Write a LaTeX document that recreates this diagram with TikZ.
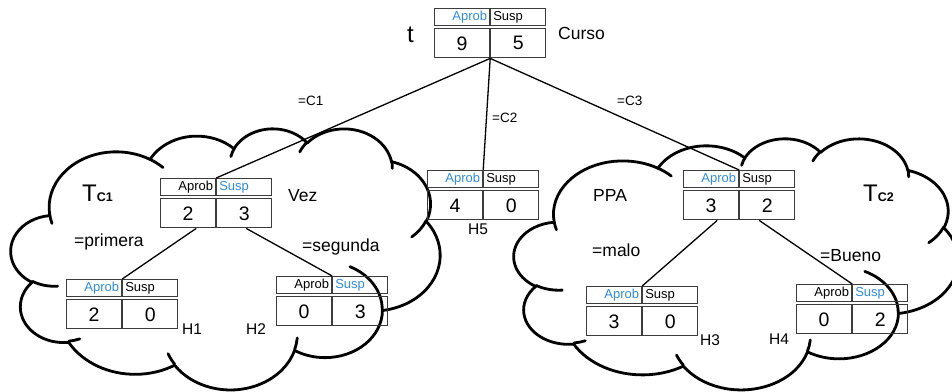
\documentclass[tikz,border=0pt]{standalone}
\usepackage{fontspec}
\setmainfont{Liberation Sans}
\definecolor{azul}{RGB}{45,140,220}
\definecolor{tblc}{RGB}{60,60,60}
\newcommand\cloudarc[4]{%
  \pgfextra{%
    \pgfmathsetmacro\cvsl{atan2((#1)*sin(#3),(#2)*cos(#3))}\global\let\cvs\cvsl
    \pgfmathsetmacro\cvel{atan2((#1)*sin((#3)+(#4)),(#2)*cos((#3)+(#4)))}%
    \pgfmathsetmacro\cvdl{\cvel-\cvs}%
    \pgfmathsetmacro\cvdl{\cvdl+360*((#4)>0)*(\cvdl<0)-360*((#4)<0)*(\cvdl>0)}\global\let\cvd\cvdl
  }
  arc[start angle=\cvs, delta angle=\cvd, x radius=#1, y radius=#2]
}
\newcommand\nube{%
  \draw[cloudline] (39.00,143.70)
    \cloudarc{67.53}{91.90}{-190.48748}{123.78053}
    \cloudarc{53.33}{72.67}{-144.10238}{89.94523}
    \cloudarc{43.65}{59.45}{-145.80792}{99.72302}
    \cloudarc{48.57}{65.95}{-130.98607}{117.24173}
    \cloudarc{53.33}{72.73}{-78.70888}{109.02692}
    \cloudarc{67.75}{92.20}{-46.26725}{130.26900}
    \cloudarc{57.85}{78.67}{0.62502}{114.03333}
    \cloudarc{67.52}{92.15}{22.45160}{115.17255}
    \cloudarc{77.20}{105.43}{66.24263}{75.71102}
    \cloudarc{43.60}{59.18}{-274.94208}{146.73557}
    \cloudarc{43.45}{59.45}{-246.82850}{152.51885}
    -- cycle;
  \draw[cloudline] (46.93,261.77) \cloudarc{43.45}{59.45}{86.74200}{26.42950};
  \draw[cloudline] (69.28,348.99) \cloudarc{43.60}{59.18}{73.61047}{11.44747};
  \draw[cloudline] (164.78,390.90) \cloudarc{67.52}{92.15}{137.62415}{14.08110};
  \draw[cloudline] (288.27,347.51) \cloudarc{67.52}{92.15}{6.45327}{15.99835};
  \draw[cloudline] (341.29,229.54) \cloudarc{57.85}{78.67}{-70.29235}{70.91737};
  \draw[cloudline] (417.98,153.54) \cloudarc{53.33}{72.73}{30.31803}{27.75150};
  \draw[cloudline] (383.24,54.26) \cloudarc{48.57}{65.95}{-13.74433}{14.85890};
  \draw[cloudline] (290.78,39.52) \cloudarc{48.57}{65.95}{-149.18145}{18.19537};
  \draw[cloudline] (221.41,47.20) \cloudarc{43.65}{59.45}{-163.49427}{17.68635};
  \draw[cloudline] (140.00,51.92) \cloudarc{67.53}{91.90}{-66.70695}{12.31935};
  \draw[cloudline] (41.27,157.89) \cloudarc{67.53}{91.90}{157.65435}{11.85817};
}
% name, x, y, colour Aprob, colour Susp, v1, v2
\newcommand\tabla[7]{%
  \node[hl, text=#4] (#1-a) at (#2,#3) {Aprob};
  \node[hr, text=#5] (#1-s) at (#1-a.north east) {Susp};
  \node[vc] (#1-1) at ([yshift=-2pt]#1-a.south west) {#6};
  \node[vc] (#1-2) at (#1-1.north east) {#7};
}
\begin{document}
\begin{tikzpicture}[x=1pt,y=-1pt,
  cloudline/.style={line width=2.8pt, line join=round, line cap=round},
  cellbase/.style={draw=tblc, line width=1.2pt, anchor=north west},
  hl/.style={cellbase, minimum height=17pt, text width=50pt, inner xsep=2.5pt, inner ysep=0pt, align=right, font=\fontsize{13}{14}\selectfont},
  hr/.style={cellbase, minimum height=17pt, text width=50pt, inner xsep=2.5pt, inner ysep=0pt, align=left, font=\fontsize{13}{14}\selectfont},
  vc/.style={cellbase, minimum width=55pt, minimum height=29pt, inner sep=0pt, font=\fontsize{19.5}{22}\selectfont},
  conn/.style={line width=1.3pt},
  lbl/.style={anchor=base west, inner sep=0pt, font=\fontsize{17.5}{20}\selectfont},
  small/.style={anchor=base west, inner sep=0pt, font=\fontsize{13.5}{16}\selectfont},
  hlab/.style={anchor=base west, inner sep=0pt, font=\fontsize{15.5}{18}\selectfont}]
\useasboundingbox (0,0) rectangle (952,391);
% clouds
\begin{scope}[shift={(11,128)}, xscale=0.99306, yscale=0.60417]
  \nube
\end{scope}
\begin{scope}[shift={(514,138)}, xscale=1.02778, yscale=0.58102]
  \nube
\end{scope}
% tables
\tabla{T0}{434}{8}{azul}{black}{9}{5}
\tabla{T1}{160}{178}{black}{azul}{2}{3}
\tabla{H1}{66}{279}{azul}{black}{2}{0}
\tabla{H2}{276}{276}{black}{azul}{0}{3}
\tabla{H5}{427}{170}{azul}{black}{4}{0}
\tabla{T2}{683}{170}{azul}{black}{3}{2}
\tabla{H3}{586}{286}{azul}{black}{3}{0}
\tabla{H4}{796}{284}{black}{azul}{0}{2}
% connectors
\draw[conn] (T0-1.south east) -- (T1-a.north east);
\draw[conn] (T0-1.south east) -- (H5-a.north east);
\draw[conn] (T0-1.south east) -- (T2-a.north east);
\draw[conn] ([xshift=-20pt]T1-1.south east) -- (H1-a.north east);
\draw[conn] ([xshift=30pt]T1-1.south east) -- (H2-a.north east);
\draw[conn] ([xshift=-22pt]T2-1.south east) -- (H3-a.north east);
\draw[conn] ([xshift=20pt]T2-1.south east) -- (H4-a.north east);
% labels
\node[lbl, font=\fontsize{24}{26}\selectfont] (lt) at (407,42) {t};
\node[lbl] (lcurso) at (558,39) {Curso};
\node[small] (lc1) at (298,105) {=C1};
\node[small] (lc2) at (492,122) {=C2};
\node[small] (lc3) at (617,105) {=C3};
\node[lbl, font=\fontsize{24}{26}\selectfont] (ltc1) at (82,201) {T{\fontsize{12.5}{14}\selectfont\bfseries C1}};
\node[lbl] (lvez) at (288,201) {Vez};
\node[lbl] (lprim) at (74,246) {=primera};
\node[lbl] (lseg) at (302,251) {=segunda};
\node[hlab] (lh1) at (182,334) {H1};
\node[hlab] (lh2) at (246,334) {H2};
\node[hlab] (lh5) at (468,234) {H5};
\node[lbl] (lppa) at (593,201) {PPA};
\node[lbl] (lmalo) at (592,256) {=malo};
\node[lbl] (lbueno) at (820,261) {=Bueno};
\node[lbl, font=\fontsize{24}{26}\selectfont] (ltc2) at (863,201) {T{\fontsize{12.5}{14}\selectfont\bfseries C2}};
\node[hlab] (lh3) at (700,345) {H3};
\node[hlab] (lh4) at (769,344) {H4};
\end{tikzpicture}
\end{document}
